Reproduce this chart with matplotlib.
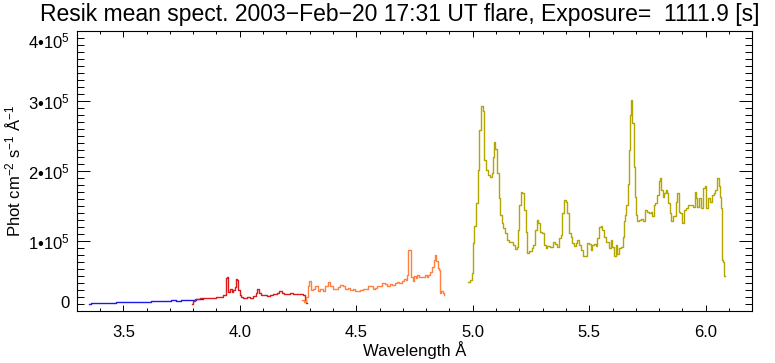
import matplotlib
matplotlib.use("Agg")
import matplotlib.pyplot as plt
from matplotlib.ticker import MultipleLocator, FixedLocator, FixedFormatter
import numpy as np

plt.rcParams['font.family'] = ['Liberation Sans', 'DejaVu Sans']
plt.rcParams['mathtext.fontset'] = 'custom'
plt.rcParams['mathtext.rm'] = 'Liberation Sans'
plt.rcParams['mathtext.it'] = 'Liberation Sans:italic'
plt.rcParams['mathtext.bf'] = 'Liberation Sans:bold'

blue_wave = [3.354, 3.371, 3.393, 3.414, 3.436, 3.457, 3.479, 3.500, 3.522, 3.543,
             3.564, 3.586, 3.607, 3.629, 3.650, 3.672, 3.693, 3.715, 3.736, 3.758,
             3.779, 3.801, 3.822, 3.843]
blue_flux = [0.100, 0.119, 0.114, 0.119, 0.110, 0.114, 0.124, 0.124, 0.129, 0.129,
             0.133, 0.129, 0.133, 0.138, 0.138, 0.143, 0.148, 0.152, 0.148, 0.152,
             0.157, 0.162, 0.167, 0.167]

red_wave = [3.793, 3.801, 3.815, 3.844, 3.865, 3.886, 3.908, 3.922, 3.936, 3.944,
            3.948, 3.954, 3.961, 3.968, 3.975, 3.982, 3.987, 3.991, 3.997, 4.001,
            4.008, 4.022, 4.037, 4.051, 4.065, 4.072, 4.080, 4.087, 4.094, 4.108,
            4.122, 4.137, 4.151, 4.165, 4.175, 4.184, 4.194, 4.208, 4.222, 4.237,
            4.251, 4.265, 4.277, 4.283, 4.287]
red_flux = [0.100, 0.148, 0.171, 0.181, 0.181, 0.190, 0.200, 0.205, 0.229, 0.467,
            0.490, 0.276, 0.310, 0.276, 0.300, 0.348, 0.452, 0.443, 0.300, 0.229,
            0.205, 0.181, 0.205, 0.181, 0.214, 0.252, 0.310, 0.262, 0.229, 0.229,
            0.214, 0.229, 0.238, 0.252, 0.286, 0.262, 0.238, 0.243, 0.252, 0.243,
            0.238, 0.243, 0.229, 0.157, 0.110]

orange_wave = [4.268, 4.280, 4.290, 4.296, 4.301, 4.308, 4.319, 4.330, 4.341, 4.351,
               4.361, 4.373, 4.384, 4.394, 4.404, 4.416, 4.427, 4.437, 4.447, 4.459,
               4.470, 4.480, 4.490, 4.502, 4.513, 4.523, 4.533, 4.545, 4.556, 4.566,
               4.576, 4.585, 4.595, 4.605, 4.616, 4.628, 4.638, 4.648, 4.659, 4.670,
               4.680, 4.690, 4.699, 4.709, 4.716, 4.722, 4.726, 4.731, 4.735, 4.739,
               4.745, 4.752, 4.759, 4.766, 4.776, 4.788, 4.799, 4.806, 4.813, 4.823,
               4.831, 4.838, 4.842, 4.846, 4.852, 4.856, 4.861, 4.862, 4.868, 4.874,
               4.878]
orange_flux = [0.15, 0.13, 0.20, 0.35, 0.43, 0.30, 0.32, 0.35, 0.29, 0.31,
               0.29, 0.35, 0.41, 0.35, 0.32, 0.31, 0.34, 0.37, 0.35, 0.32,
               0.33, 0.30, 0.31, 0.28, 0.29, 0.30, 0.31, 0.32, 0.35, 0.36,
               0.31, 0.33, 0.35, 0.35, 0.40, 0.38, 0.36, 0.38, 0.37, 0.40,
               0.41, 0.40, 0.43, 0.46, 0.44, 0.51, 0.87, 0.87, 0.70, 0.48,
               0.43, 0.50, 0.47, 0.51, 0.49, 0.49, 0.51, 0.49, 0.52, 0.56,
               0.63, 0.73, 0.80, 0.72, 0.61, 0.59, 0.54, 0.25, 0.28, 0.25,
               0.23]

olive_wave = [4.981, 4.995, 4.999, 5.002, 5.011, 5.017, 5.024, 5.031, 5.038, 5.042,
              5.048, 5.052, 5.060, 5.067, 5.077, 5.084, 5.088, 5.093, 5.100, 5.108,
              5.114, 5.121, 5.128, 5.135, 5.143, 5.150, 5.160, 5.171, 5.178, 5.185,
              5.191, 5.197, 5.203, 5.210, 5.217, 5.224, 5.231, 5.238, 5.248, 5.257,
              5.263, 5.271, 5.277, 5.284, 5.293, 5.303, 5.310, 5.317, 5.324, 5.339,
              5.350, 5.360, 5.367, 5.374, 5.381, 5.389, 5.396, 5.403, 5.410, 5.417,
              5.424, 5.432, 5.439, 5.446, 5.453, 5.460, 5.467, 5.477, 5.486, 5.493,
              5.503, 5.510, 5.517, 5.525, 5.532, 5.539, 5.546, 5.553, 5.560, 5.567,
              5.574, 5.582, 5.589, 5.596, 5.603, 5.610, 5.617, 5.625, 5.632, 5.640,
              5.649, 5.653, 5.657, 5.663, 5.669, 5.675, 5.679, 5.683, 5.688, 5.693,
              5.697, 5.703, 5.710, 5.717, 5.729, 5.736, 5.746, 5.753, 5.760, 5.768,
              5.775, 5.779, 5.789, 5.796, 5.800, 5.806, 5.812, 5.818, 5.825, 5.832,
              5.836, 5.842, 5.848, 5.854, 5.861, 5.868, 5.875, 5.881, 5.886, 5.896,
              5.904, 5.912, 5.920, 5.929, 5.939, 5.949, 5.955, 5.961, 5.968, 5.975,
              5.982, 5.992, 5.999, 6.006, 6.014, 6.022, 6.029, 6.038, 6.046, 6.052,
              6.058, 6.064, 6.068, 6.071, 6.078, 6.082]
olive_flux = [0.41, 0.44, 0.54, 0.97, 1.21, 1.54, 2.01, 2.59, 2.93, 2.93,
              2.85, 2.16, 2.01, 1.94, 1.91, 1.97, 2.20, 2.42, 2.32, 1.97,
              1.61, 1.37, 1.25, 1.18, 1.11, 1.01, 0.98, 0.98, 0.94, 0.88,
              0.92, 1.16, 1.51, 1.70, 1.68, 1.44, 1.13, 0.83, 0.86, 0.90,
              0.94, 1.16, 1.30, 1.25, 1.13, 1.12, 0.94, 0.90, 0.93, 0.92,
              0.98, 0.96, 0.92, 1.04, 1.09, 1.40, 1.59, 1.56, 1.40, 1.11,
              1.06, 0.97, 0.93, 0.97, 1.01, 0.94, 0.87, 0.78, 0.78, 0.97,
              0.96, 0.87, 0.94, 0.96, 0.93, 1.04, 1.20, 1.21, 1.16, 1.06,
              0.98, 0.99, 0.90, 1.01, 0.92, 0.78, 0.94, 0.82, 0.90, 0.91,
              1.06, 1.28, 1.37, 1.51, 1.82, 2.30, 2.80, 3.01, 2.68, 2.06,
              1.63, 1.37, 1.28, 1.30, 1.32, 1.28, 1.44, 1.42, 1.40, 1.42,
              1.36, 1.51, 1.54, 1.66, 1.85, 1.90, 1.73, 1.63, 1.68, 1.73,
              1.68, 1.54, 1.40, 1.28, 1.35, 1.35, 1.56, 1.68, 1.42, 1.40,
              1.25, 1.44, 1.47, 1.51, 1.51, 1.49, 1.70, 1.61, 1.49, 1.61,
              1.47, 1.75, 1.78, 1.47, 1.61, 1.56, 1.66, 1.68, 1.73, 1.90,
              1.78, 1.63, 1.47, 0.73, 0.70, 0.50]

ytick_values = [0, 1e5, 2e5, 3e5, 4e5]
ytick_labels = ['0', '1•10$^5$', '2•10$^5$', '3•10$^5$', '4•10$^5$']
xtick_values = [3.5, 4.0, 4.5, 5.0, 5.5, 6.0]
xtick_labels = ['3.5', '4.0', '4.5', '5.0', '5.5', '6.0']

title = 'Resik mean spect. 2003\u2212Feb\u221220 17:31 UT flare, Exposure=  1111.9 [s]'

fig = plt.figure(figsize=(7.75, 3.63), dpi=100)
ax = fig.add_axes([0.099, 0.1433, 0.8717, 0.7713])

segments = [
    (blue_wave, blue_flux, '#1a1ae6'),
    (red_wave, red_flux, '#d91a1a'),
    (orange_wave, orange_flux, '#ff8040'),
    (olive_wave, olive_flux, '#b3a600'),
]
for w, f, c in segments:
    ax.plot(w, np.array(f) * 1e5, color=c, lw=1.0, drawstyle='steps-mid')

ax.set_xlim(3.3, 6.2)
ax.set_ylim(0, 4e5)

ax.xaxis.set_major_locator(FixedLocator(xtick_values))
ax.xaxis.set_major_formatter(FixedFormatter(xtick_labels))
ax.xaxis.set_minor_locator(MultipleLocator(0.1))
ax.yaxis.set_major_locator(FixedLocator(ytick_values))
ax.yaxis.set_major_formatter(FixedFormatter(ytick_labels))
ax.yaxis.set_minor_locator(MultipleLocator(1e4))

ax.tick_params(axis='both', which='both', direction='in', top=True, right=True,
               width=0.7, color='black', labelsize=12)
ax.tick_params(axis='x', which='major', length=4, pad=10)
ax.tick_params(axis='x', which='minor', length=2)
ax.tick_params(axis='y', which='major', length=9.7, pad=5)
ax.tick_params(axis='y', which='minor', length=4.9)
for sp in ax.spines.values():
    sp.set_linewidth(0.8)

# IDL style: keep the end labels inside the axis range
yt = ax.yaxis.get_major_ticks()
yt[0].label1.set_va('bottom')
yt[-1].label1.set_va('top')

ax.set_xlabel('Wavelength Å', fontsize=12, labelpad=1)
ax.set_ylabel('Phot cm$^{-2}$ s$^{-1}$ Å$^{-1}$', fontsize=12, labelpad=3)
fig.text(400 / 775, 1 - 14 / 363, title, ha='center', va='center', fontsize=16.5)

fig.savefig('out.png', dpi=100)
